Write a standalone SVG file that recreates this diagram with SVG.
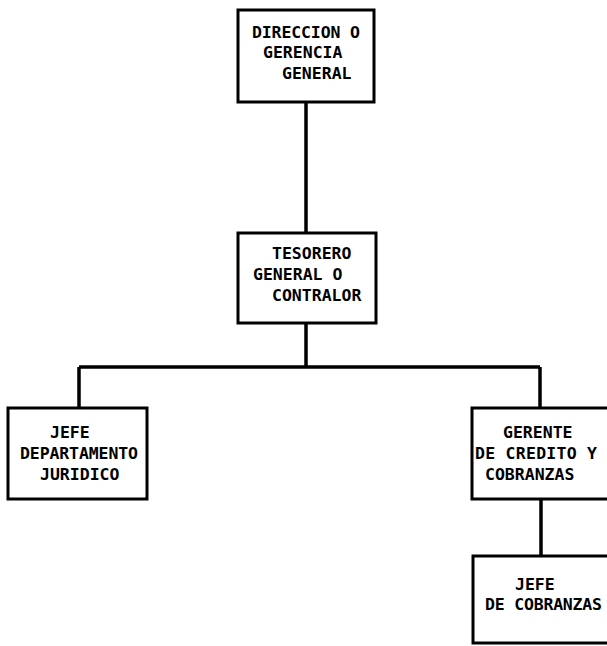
<svg xmlns="http://www.w3.org/2000/svg" width="607" height="646" viewBox="0 0 607 646">
<style>
.box{fill:#fff;stroke:#000;stroke-width:3}
.lbl{font-family:"DejaVu Sans Mono","Liberation Mono",monospace;font-weight:bold;font-size:16.5px;fill:#000}
.conn{fill:none;stroke:#000;stroke-width:3.5;stroke-linejoin:round}
</style>
<rect width="607" height="646" fill="#fff"/>
<g id="connectors">
<path class="conn" d="M306,102 V233"/>
<path class="conn" d="M306,323 V367 M79,367 H540 M79,367 V408 M540,367 V408"/>
<path class="conn" d="M541,499 V556"/>
</g>
<g id="n1">
<rect class="box" x="238" y="10" width="136" height="92"/>
<text class="lbl" x="252" y="38" textLength="108">DIRECCION O</text>
<text class="lbl" x="263" y="58">GERENCIA</text>
<text class="lbl" x="282" y="79">GENERAL</text>
</g>
<g id="n2">
<rect class="box" x="238" y="233" width="138" height="90"/>
<text class="lbl" x="272" y="259">TESORERO</text>
<text class="lbl" x="253" y="280">GENERAL O</text>
<text class="lbl" x="272" y="301">CONTRALOR</text>
</g>
<g id="n3">
<rect class="box" x="8" y="408" width="139" height="91"/>
<text class="lbl" x="50" y="438">JEFE</text>
<text class="lbl" x="20" y="459" textLength="118">DEPARTAMENTO</text>
<text class="lbl" x="40" y="480">JURIDICO</text>
</g>
<g id="n4">
<rect class="box" x="472" y="408" width="138" height="91"/>
<text class="lbl" x="503" y="438">GERENTE</text>
<text class="lbl" x="475" y="459" textLength="122">DE CREDITO Y</text>
<text class="lbl" x="485" y="480">COBRANZAS</text>
</g>
<g id="n5">
<rect class="box" x="473" y="556" width="137" height="87"/>
<text class="lbl" x="515" y="590">JEFE</text>
<text class="lbl" x="485" y="610" textLength="117">DE COBRANZAS</text>
</g>
</svg>
